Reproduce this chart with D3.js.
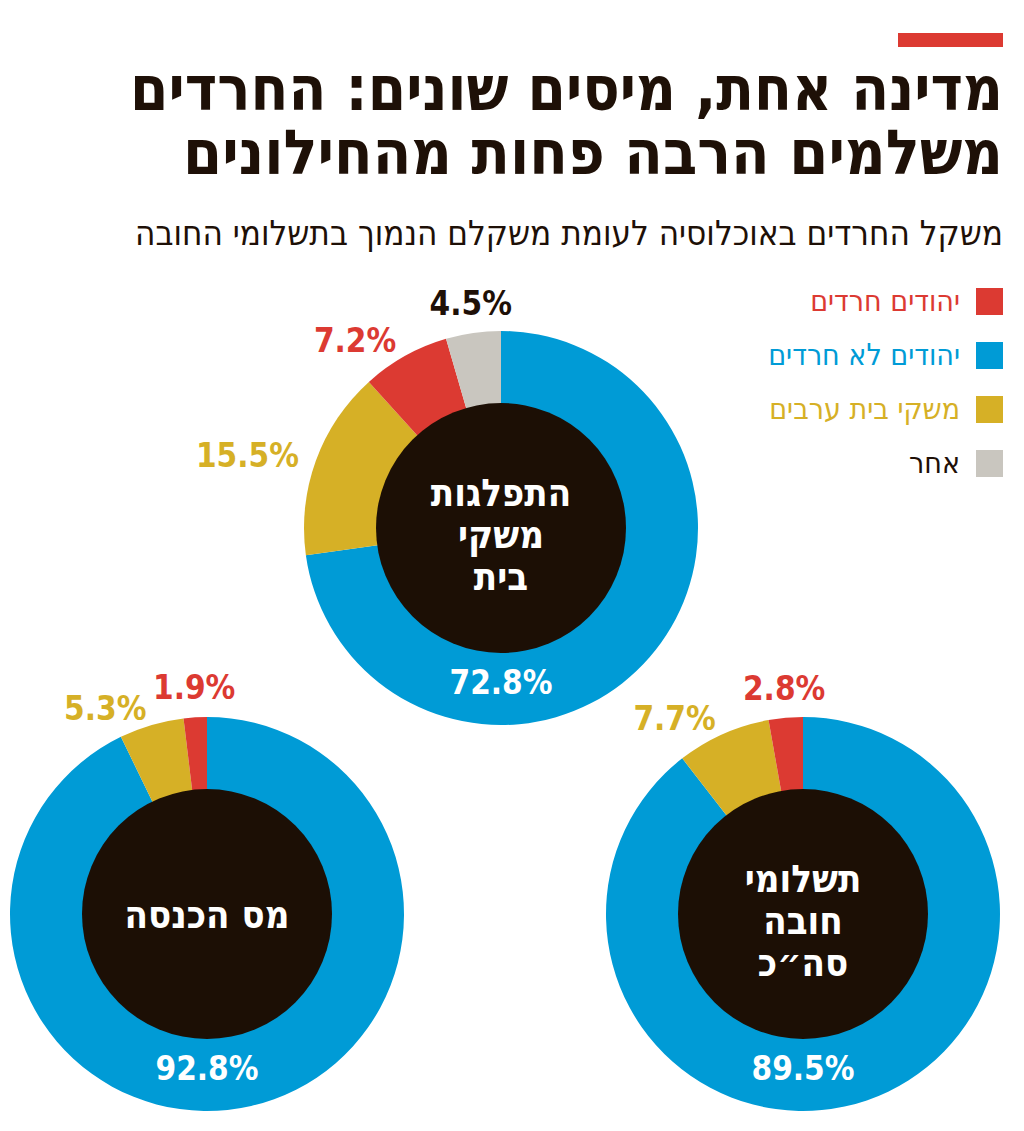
<!DOCTYPE html>
<html>
<head>
<meta charset="utf-8">
<script src="https://cdn.jsdelivr.net/npm/d3@7"></script>
<style>
  body { margin: 0; background: #fff; }
  svg { display: block; }
</style>
</head>
<body>
<div id="chart"></div>
<script>
// categories and values (percent)
const categories = ["יהודים חרדים", "יהודים לא חרדים", "משקי בית ערבים", "אחר"];
const households = [7.2, 72.8, 15.5, 4.5];
const incomeTax = [1.9, 92.8, 5.3, 0];
const totalPayments = [2.8, 89.5, 7.7, 0];
// order of slices clockwise from 12 o'clock
const ringOrder = [1, 2, 0, 3];

const titleLines = ["מדינה אחת, מיסים שונים: החרדים", "משלמים הרבה פחות מהחילונים"];
const subtitle = "משקל החרדים באוכלוסיה לעומת משקלם הנמוך בתשלומי החובה";
const centerTitles = [["התפלגות", "משקי", "בית"], ["מס הכנסה"], ["תשלומי", "חובה", "סה״כ"]];

const fills = ["#dc3a32", "#009bd6", "#d6b026", "#c9c6bf"];
const textFills = ["#dc3a32", "#009bd6", "#d6b026", "#1e1007"];
const dark = "#1e1007";

const width = 1024, height = 1131;
const outerR = 197, innerR = 125;
const font = "'DejaVu Sans Condensed', 'DejaVu Sans', sans-serif";

const svg = d3.select("#chart")
    .append("svg")
    .attr("width", width)
    .attr("height", height);

// red tag above the title
svg.append("rect")
    .attr("x", 898).attr("y", 33)
    .attr("width", 105).attr("height", 14)
    .attr("fill", "#dc3a32");

// title
const titleWidths = [873, 820];
titleLines.forEach(function (t, i) {
    svg.append("text")
        .attr("x", 1003)
        .attr("y", 110 + i * 64)
        .attr("text-anchor", "end")
        .attr("textLength", titleWidths[i])
        .attr("lengthAdjust", "spacingAndGlyphs")
        .style("font-family", font)
        .style("font-weight", "bold")
        .style("font-size", "62px")
        .style("fill", dark)
        .text(t);
});

svg.append("text")
    .attr("x", 1003)
    .attr("y", 245)
    .attr("text-anchor", "end")
    .attr("textLength", 868)
    .attr("lengthAdjust", "spacingAndGlyphs")
    .style("font-family", font)
    .style("font-size", "34px")
    .style("fill", dark)
    .text(subtitle);

// legend
const legend = svg.append("g")
    .selectAll("g")
    .data(categories)
    .enter()
    .append("g")
    .attr("transform", (d, i) => `translate(976, ${288 + i * 54})`);

legend.append("rect")
    .attr("width", 27).attr("height", 27)
    .attr("fill", (d, i) => fills[i]);

legend.append("text")
    .attr("x", -16)
    .attr("y", 23)
    .attr("text-anchor", "end")
    .style("font-family", font)
    .style("font-size", "30px")
    .style("fill", (d, i) => textFills[i])
    .text(d => d);

// donuts
const charts = [
    {values: households, cx: 501, cy: 528, title: centerTitles[0]},
    {values: incomeTax, cx: 207, cy: 914, title: centerTitles[1]},
    {values: totalPayments, cx: 803, cy: 914, title: centerTitles[2]}
];

const arc = d3.arc().innerRadius(0).outerRadius(outerR);
const pie = d3.pie().sort(null).value(i => i.v);

charts.forEach(function (c) {
    const rows = ringOrder
        .filter(i => c.values[i] > 0)
        .map(i => ({k: i, v: c.values[i]}));
    const slices = pie(rows);

    const g = svg.append("g")
        .attr("transform", `translate(${c.cx}, ${c.cy})`);

    g.selectAll("path")
        .data(slices)
        .enter()
        .append("path")
        .attr("d", arc)
        .attr("fill", d => fills[d.data.k]);

    g.append("circle")
        .attr("r", innerR)
        .attr("fill", "#1c0f05");

    // labels for the small slices sit outside the ring
    const labelArc = d3.arc().innerRadius(outerR + 18).outerRadius(outerR + 18);
    slices.filter(d => d.data.k !== 1).forEach(function (d) {
        const p = labelArc.centroid(d);
        const mid = (d.startAngle + d.endAngle) / 2;
        const side = Math.abs(Math.sin(mid)) > 0.25;
        g.append("text")
            .attr("x", p[0])
            .attr("y", side ? p[1] + 12 : p[1])
            .attr("text-anchor", side ? (Math.sin(mid) < 0 ? "end" : "start") : "middle")
            .style("font-family", font)
            .style("font-weight", "bold")
            .style("font-size", "33px")
            .style("fill", textFills[d.data.k])
            .text(d.data.v + "%");
    });

    // label of the big slice, inside the ring at the bottom
    const big = slices.find(d => d.data.k === 1);
    const inArc = d3.arc().innerRadius((innerR + outerR) / 2).outerRadius((innerR + outerR) / 2);
    const q = inArc.centroid({startAngle: Math.PI, endAngle: Math.PI});
    g.append("text")
        .attr("x", q[0])
        .attr("y", q[1] + 5)
        .attr("text-anchor", "middle")
        .style("font-family", font)
        .style("font-weight", "bold")
        .style("font-size", "33px")
        .style("fill", "#fff")
        .text(big.data.v + "%");

    // centre title
    const n = c.title.length;
    g.append("g").selectAll("text")
        .data(c.title)
        .enter()
        .append("text")
        .attr("x", 0)
        .attr("y", (d, i) => (i - (n - 1) / 2) * 42 + (n > 1 ? 20 : 14))
        .attr("text-anchor", "middle")
        .style("font-family", font)
        .style("font-weight", "bold")
        .style("font-size", "38px")
        .style("fill", "#fff")
        .text(d => d);
});
</script>
</body>
</html>
